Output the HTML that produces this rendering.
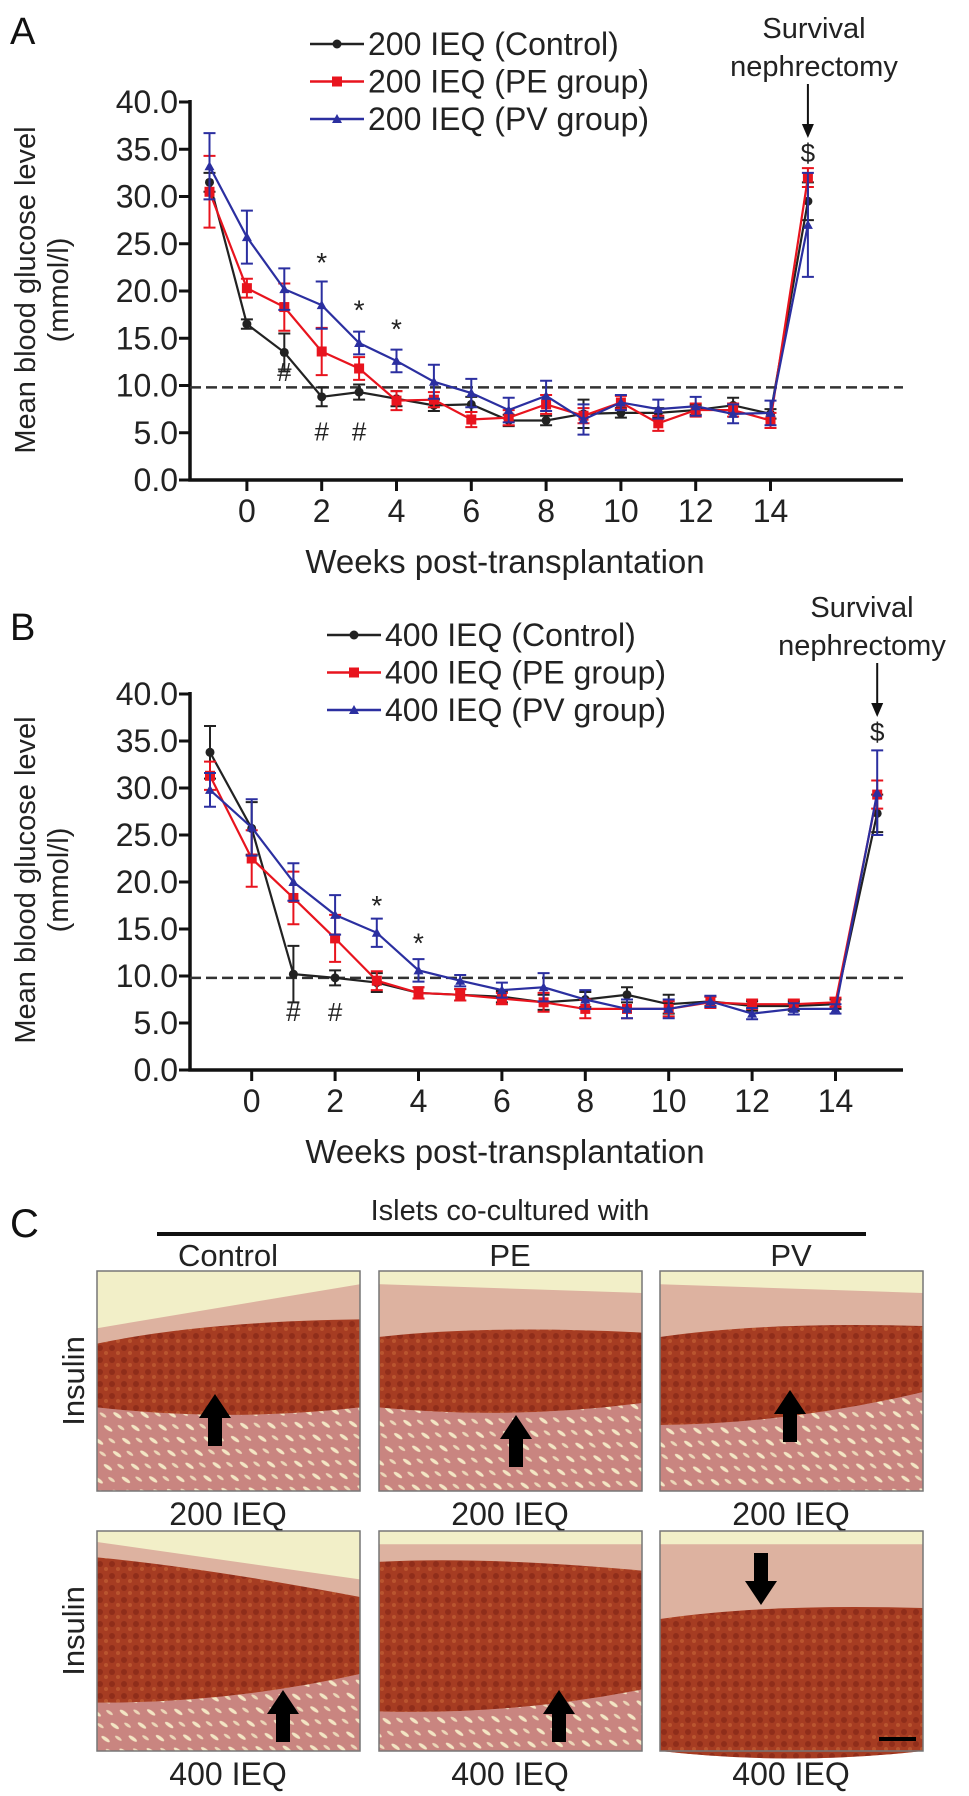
<!DOCTYPE html>
<html><head><meta charset="utf-8"><style>
html,body{margin:0;padding:0;background:#fff;}
body{width:969px;height:1796px;overflow:hidden;position:relative;font-family:"Liberation Sans",Arial,sans-serif;}
svg{position:absolute;left:0;top:0;}
</style></head><body>
<svg id="fig" width="969" height="1796" viewBox="0 0 969 1796" font-family="Liberation Sans, Arial, sans-serif"></svg>
<script>
const weeks=[-1,0,1,2,3,4,5,6,7,8,9,10,11,12,13,14,15];
const yTicks=["0.0","5.0","10.0","15.0","20.0","25.0","30.0","35.0","40.0"];
const xTickLabels=[0,2,4,6,8,10,12,14];
// Panel A
const aControl=[31.5,16.5,13.5,8.8,9.3,8.6,7.9,8.0,6.3,6.3,7.0,7.1,7.1,7.4,7.9,7.0,29.5];
const aPE=[30.5,20.3,18.3,13.6,11.8,8.4,8.5,6.4,6.6,8.0,6.8,8.2,6.0,7.4,7.4,6.3,32.0];
const aPV=[33.2,25.7,20.2,18.5,14.5,12.6,10.4,9.2,7.4,8.9,6.4,8.2,7.5,7.8,7.0,7.1,27.0];
const aControlErr=[1,0.5,2,1,0.8,0.8,0.6,0.8,0.6,0.5,1.5,0.5,0.5,0.5,0.8,0.5,2];
const aPEErr=[3.8,1,2.5,2.5,1.2,1,0.8,0.8,0.8,1,0.8,0.7,0.8,0.7,0.7,0.8,1];
const aPVErr=[3.5,2.8,2.2,2.5,1.2,1.2,1.8,1.5,1.3,1.6,1.6,0.8,1,1,1,1.3,5.5];
// Panel B
const bControl=[33.8,25.7,10.2,9.8,9.3,8.2,8.0,7.8,7.2,7.5,8.0,7.0,7.3,6.8,6.8,7.0,27.3];
const bPE=[31.3,22.5,18.3,14.0,9.5,8.2,8.0,7.6,7.2,6.5,6.5,6.5,7.2,7.0,7.0,7.2,29.3];
const bPV=[29.8,25.8,20.0,16.5,14.6,10.6,9.5,8.5,8.8,7.5,6.5,6.5,7.3,6.0,6.5,6.5,29.5];
const bControlErr=[2.8,2.8,3,0.8,1,0.6,0.6,0.6,0.8,0.8,0.8,1,0.5,0.5,0.5,0.5,2];
const bPEErr=[1.5,3,2.8,2.5,1,0.6,0.6,0.6,1,1,1,0.8,0.6,0.5,0.5,0.5,1.5];
const bPVErr=[1.8,3,2,2.1,1.5,1.2,0.6,0.8,1.5,1,1,1,0.6,0.6,0.6,0.5,4.5];

const NS='http://www.w3.org/2000/svg';
const svg=document.getElementById('fig');
function mk(tag,attrs,parent,text){const e=document.createElementNS(NS,tag);for(const k in attrs)e.setAttribute(k,attrs[k]);if(text!==undefined)e.textContent=text;(parent||svg).appendChild(e);return e;}

function chart(cfg){
  const g=mk('g',{});
  
  
  const x=w=>cfg.x0+(w+1)*cfg.step;
  const y=v=>cfg.y0-v*(cfg.y0-cfg.y40)/40;
  const ax=mk('path',{d:`M190 ${cfg.y40-2} V${cfg.y0} H903`,stroke:'#111','stroke-width':3.5,fill:'none'},g);
  
  
  yTicks.forEach((t,i)=>{
    const v=i*5;
    mk('line',{x1:179,x2:190,y1:y(v),y2:y(v),stroke:'#111','stroke-width':3},g);
    const tx=mk('text',{x:178,y:y(v)+11,'text-anchor':'end','font-size':32,fill:'#222'},g,t);
    
    
  });
  xTickLabels.forEach(w=>{
    mk('line',{x1:x(w),x2:x(w),y1:cfg.y0,y2:cfg.y0+11,stroke:'#111','stroke-width':3},g);
    const tx=mk('text',{x:x(w),y:cfg.y0+42,'text-anchor':'middle','font-size':32,fill:'#222'},g,String(w));
    
    
  });
  const xt=mk('text',{x:505,y:cfg.y0+93,'text-anchor':'middle','font-size':33,fill:'#222'},g,'Weeks post-transplantation');
  
  
  const yt=mk('text',{transform:`translate(35 ${cfg.y0-190}) rotate(-90)`,'text-anchor':'middle','font-size':29,fill:'#222'},g);
  
  
  mk('tspan',{x:0,dy:0},yt,'Mean blood glucose level');
  mk('tspan',{x:0,dy:33},yt,'(mmol/l)');
  const dl=mk('line',{x1:190,x2:903,y1:y(9.8),y2:y(9.8),stroke:'#333','stroke-width':2.5,'stroke-dasharray':'11 5'},g);
  
  
  cfg.series.forEach(s=>{
    const sg=mk('g',{},g);
    
    
    s.vals.forEach((v,i)=>{
      const xx=x(weeks[i]);
      mk('path',{d:`M${xx} ${y(v-s.err[i])}V${y(v+s.err[i])}M${xx-6} ${y(v+s.err[i])}H${xx+6}M${xx-6} ${y(v-s.err[i])}H${xx+6}`,stroke:s.color,'stroke-width':2,fill:'none'},sg);
    });
    mk('polyline',{points:s.vals.map((v,i)=>x(weeks[i])+','+y(v)).join(' '),stroke:s.color,'stroke-width':2.2,fill:'none'},sg);
    s.vals.forEach((v,i)=>{
      const xx=x(weeks[i]),yy=y(v);let m;
      if(s.marker==='c')m=mk('circle',{cx:xx,cy:yy,r:4.5,fill:s.color},sg);
      else if(s.marker==='s')m=mk('rect',{x:xx-5,y:yy-5,width:10,height:10,fill:s.color},sg);
      else m=mk('path',{d:`M${xx} ${yy-5}L${xx+5} ${yy+4}L${xx-5} ${yy+4}Z`,fill:s.color},sg);
      
      
    });
  });
  cfg.marks.forEach(mm=>{
    const t=mk('text',{x:x(mm[0]),y:y(mm[1]),'text-anchor':'middle','font-size':mm[2]==='*'?28:26,fill:'#222'},g,mm[2]);
    
    
  });
  cfg.series.forEach((s,i)=>{
    const ly=cfg.legY+i*37.5, lx=cfg.legX;
    const lg=mk('g',{},g);
    
    
    mk('line',{x1:lx,x2:lx+54,y1:ly,y2:ly,stroke:s.color,'stroke-width':2.5},lg);
    if(s.marker==='c')mk('circle',{cx:lx+27,cy:ly,r:4.5,fill:s.color},lg);
    else if(s.marker==='s')mk('rect',{x:lx+22,y:ly-5,width:10,height:10,fill:s.color},lg);
    else mk('path',{d:`M${lx+27} ${ly-5}L${lx+32} ${ly+4}L${lx+22} ${ly+4}Z`,fill:s.color},lg);
    mk('text',{x:lx+58,y:ly+11,'font-size':32,fill:'#222'},lg,s.label);
  });
  const sv=mk('text',{x:cfg.survX,y:cfg.survY,'text-anchor':'middle','font-size':29,fill:'#222'},g);
  
  
  mk('tspan',{x:cfg.survX,dy:0},sv,'Survival');
  mk('tspan',{x:cfg.survX,dy:38},sv,'nephrectomy');
  mk('line',{x1:x(15),x2:x(15),y1:cfg.survY+46,y2:cfg.survY+96,stroke:'#111','stroke-width':2},g);
  mk('path',{d:`M${x(15)-6} ${cfg.survY+86}L${x(15)+6} ${cfg.survY+86}L${x(15)} ${cfg.survY+100}Z`,fill:'#111'},g);
  const dol=mk('text',{x:x(15),y:cfg.survY+124,'text-anchor':'middle','font-size':26,fill:'#222'},g,'$');
  
  
  const pl=mk('text',{x:10,y:cfg.panelY,'font-size':38,fill:'#111'},g,cfg.panel);
  
  
}

chart({name:'chart-a',x0:209.5,step:37.4,y0:480,y40:102,legX:310,legY:44,survX:814,survY:38,panelY:44,panel:'A',
 series:[{name:'series-control',label:'200 IEQ (Control)',color:'#222',marker:'c',vals:aControl,err:aControlErr},
 {name:'series-pe',label:'200 IEQ (PE group)',color:'#e8141e',marker:'s',vals:aPE,err:aPEErr},
 {name:'series-pv',label:'200 IEQ (PV group)',color:'#2b2fa0',marker:'t',vals:aPV,err:aPVErr}],
 marks:[[1,10.5,'#'],[2,4.2,'#'],[3,4.2,'#'],[2,22,'*'],[3,17,'*'],[4,15,'*']]});
chart({name:'chart-b',x0:210,step:41.7,y0:1070,y40:694,legX:327,legY:635,survX:862,survY:617,panelY:640,panel:'B',
 series:[{name:'series-control',label:'400 IEQ (Control)',color:'#222',marker:'c',vals:bControl,err:bControlErr},
 {name:'series-pe',label:'400 IEQ (PE group)',color:'#e8141e',marker:'s',vals:bPE,err:bPEErr},
 {name:'series-pv',label:'400 IEQ (PV group)',color:'#2b2fa0',marker:'t',vals:bPV,err:bPVErr}],
 marks:[[1,5.2,'#'],[2,5.2,'#'],[3,16.5,'*'],[4,12.5,'*']]});

// Panel C
const defs=mk('defs',{});
const pat=mk('pattern',{id:'tub',width:22,height:16,patternUnits:'userSpaceOnUse',patternTransform:'rotate(35)'},defs);
mk('rect',{width:22,height:16,fill:'#c98580'},pat);
mk('ellipse',{cx:6,cy:4,rx:5,ry:1.8,fill:'#f3e6c4'},pat);
mk('ellipse',{cx:16,cy:12,rx:4,ry:1.5,fill:'#ecd7b8'},pat);
const pat2=mk('pattern',{id:'isl',width:12,height:12,patternUnits:'userSpaceOnUse'},defs);
mk('rect',{width:12,height:12,fill:'#a63c22'},pat2);
mk('circle',{cx:4,cy:4,r:3,fill:'#8f2d1a'},pat2);
mk('circle',{cx:10,cy:9,r:2,fill:'#b9552f'},pat2);

const cg=mk('g',{});


mk('text',{x:10,y:1237,'font-size':40,fill:'#111'},cg,'C');
mk('text',{x:510,y:1220,'text-anchor':'middle','font-size':29,fill:'#222'},cg,'Islets co-cultured with');
mk('line',{x1:157,x2:866,y1:1234,y2:1234,stroke:'#111','stroke-width':4},cg);
const cols=[[97,'Control'],[379,'PE'],[660,'PV']];
cols.forEach(c=>{const t=mk('text',{x:c[0]+131,y:1266,'text-anchor':'middle','font-size':31,fill:'#222'},cg,c[1]);
 });
const rows=[[1271,'200 IEQ',1513,1381],[1531,'400 IEQ',1773,1631]];
const layers=[[[0.26,0.06,0.33,0.22,0.62,0.62],[0.06,0.1,0.3,0.28,0.62,0.6],[0.06,0.1,0.3,0.25,0.7,0.55]],
              [[0.05,0.22,0.12,0.3,0.78,0.65],[0.06,0.06,0.14,0.18,0.82,0.72],[0.06,0.06,0.4,0.35,1.0,1.0]]];
const arrows=[[[215,1394,1],[516,1415,1],[790,1390,1]],[[283,1690,1],[559,1690,1],[761,1553,-1]]];
rows.forEach((r,ri)=>{
  const yl=mk('text',{transform:`translate(84 ${r[3]}) rotate(-90)`,'text-anchor':'middle','font-size':31,fill:'#222'},cg,'Insulin');
  
  cols.forEach((c,ci)=>{
    const x0=c[0],y0=r[0],w=263,h=220,L=layers[ri][ci];
    const pg=mk('g',{},cg);
    
    
    mk('rect',{x:x0,y:y0,width:w,height:h,fill:'#f2efc8'},pg);
    mk('path',{d:`M${x0} ${y0+L[0]*h}L${x0+w} ${y0+L[1]*h}V${y0+h}H${x0}Z`,fill:'#ddb2a0'},pg);
    mk('path',{d:`M${x0} ${y0+L[4]*h}Q${x0+w*0.5} ${y0+(L[4]+L[5])/2*h+15} ${x0+w} ${y0+L[5]*h}V${y0+h}H${x0}Z`,fill:'url(#tub)'},pg);
    mk('path',{d:`M${x0} ${y0+L[2]*h}Q${x0+w*0.4} ${y0+(L[2]+L[3])/2*h-10} ${x0+w} ${y0+L[3]*h}V${y0+L[5]*h}Q${x0+w*0.5} ${y0+(L[4]+L[5])/2*h+15} ${x0} ${y0+L[4]*h}Z`,fill:'url(#isl)'},pg);
    const a=arrows[ri][ci],ax=a[0],ay=a[1];
    const d=a[2]<0?`M${ax-7} ${ay}h14v28h9l-16 24l-16-24h9z`:`M${ax} ${ay}l16 24h-9v28h-14v-28h-9z`;
    mk('path',{d:d,fill:'#000'},pg);
    mk('rect',{x:x0,y:y0,width:w,height:h,fill:'none',stroke:'#777','stroke-width':1.5},pg);
    const lb=mk('text',{x:x0+131,y:r[2]+12,'text-anchor':'middle','font-size':32,fill:'#222'},cg,r[1]);
    
  });
});
const sb=mk('line',{x1:879,x2:916,y1:1739,y2:1739,stroke:'#000','stroke-width':4},cg);


</script>
</body></html>
